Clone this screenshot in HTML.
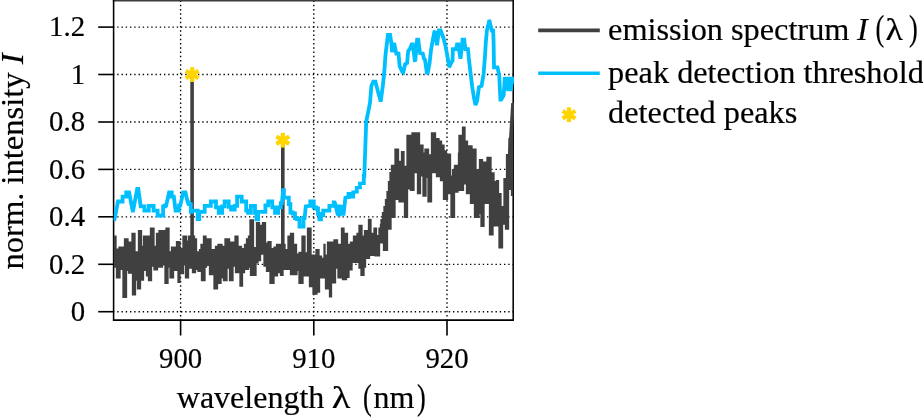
<!DOCTYPE html>
<html lang="en">
<head>
<meta charset="utf-8">
<title>Emission spectrum with peak detection threshold</title>
<style>
html,body{margin:0;padding:0;background:#fff;}
body{width:923px;height:417px;overflow:hidden;}
svg{display:block;}
text{font-family:"Liberation Serif","DejaVu Serif",serif;fill:#000;stroke:#000;stroke-width:0.2px;}
.tick{font-size:30px;}
.lab{font-size:32.3px;}
.it{font-style:italic;}
</style>
</head>
<body>
<svg width="923" height="417" viewBox="0 0 923 417">
<rect x="0" y="0" width="923" height="417" fill="#ffffff"/>
<defs><clipPath id="plotclip"><rect x="113.6" y="0" width="400.40000000000003" height="320.1"/></clipPath></defs>

<g stroke="#000" stroke-width="1.35" stroke-dasharray="1.35 2.9" stroke-dashoffset="0.6" fill="none">
<line x1="113.6" y1="311.7" x2="513.2" y2="311.7"/>
<line x1="113.6" y1="264.3" x2="513.2" y2="264.3"/>
<line x1="113.6" y1="216.8" x2="513.2" y2="216.8"/>
<line x1="113.6" y1="169.4" x2="513.2" y2="169.4"/>
<line x1="113.6" y1="122.0" x2="513.2" y2="122.0"/>
<line x1="113.6" y1="74.5" x2="513.2" y2="74.5"/>
<line x1="113.6" y1="27.1" x2="513.2" y2="27.1"/>
<line x1="180.6" y1="320.1" x2="180.6" y2="0"/>
<line x1="313.8" y1="320.1" x2="313.8" y2="0"/>
<line x1="447.0" y1="320.1" x2="447.0" y2="0"/>
</g>
<line x1="112.85" y1="0.7" x2="513.95" y2="0.7" stroke="#3c3c3c" stroke-width="1.6"/>
<polyline points="113.6,0 113.6,320.1 513.2,320.1 513.2,0" fill="none" stroke="#000" stroke-width="1.55"/>
<g clip-path="url(#plotclip)" fill="none">
<path d="M114.0,235.5V267.8M114.5,235.5V267.8M115.0,235.5V267.8M115.5,235.5V267.8M116.0,235.5V267.8M116.5,248.5V278.6M117.0,248.5V278.6M117.5,248.5V278.6M118.0,248.5V278.6M118.5,248.5V278.6M119.0,246.4V278.6M119.5,246.4V278.6M120.0,246.4V278.6M120.5,246.4V269.9M121.0,246.4V269.9M121.5,246.4V269.9M122.0,246.4V269.9M122.5,246.4V269.9M123.0,246.4V298.1M123.5,246.4V298.1M124.0,246.4V298.1M124.5,238.3V298.1M125.0,238.3V298.1M125.5,238.3V298.1M126.0,238.3V298.1M126.5,238.3V298.1M127.0,238.3V271.0M127.5,238.3V271.0M128.0,238.3V271.0M128.5,241.5V273.7M129.0,241.5V273.7M129.5,241.5V273.7M130.0,241.5V273.7M130.5,241.5V273.7M131.0,241.5V273.7M131.5,241.5V273.7M132.0,232.8V273.7M132.5,232.8V295.4M133.0,232.8V295.4M133.5,232.8V295.4M134.0,232.8V295.4M134.5,232.8V295.4M135.0,232.8V295.4M135.5,251.3V295.4M136.0,251.3V280.8M136.5,251.3V280.8M137.0,251.3V280.8M137.5,251.3V289.4M138.0,251.3V289.4M138.5,230.1V289.4M139.0,230.1V289.4M139.5,230.1V289.4M140.0,230.1V289.4M140.5,230.1V289.4M141.0,230.1V280.8M141.5,230.1V280.8M142.0,245.8V280.8M142.5,245.8V280.8M143.0,245.8V280.8M143.5,235.5V280.8M144.0,235.5V271.0M144.5,235.5V271.0M145.0,235.5V271.0M145.5,235.5V271.0M146.0,235.5V271.0M146.5,235.5V276.4M147.0,235.5V276.4M147.5,235.5V276.4M148.0,235.5V276.4M148.5,235.5V281.3M149.0,235.5V281.3M149.5,235.5V281.3M150.0,235.5V281.3M150.5,227.4V281.3M151.0,227.4V281.3M151.5,227.4V281.3M152.0,227.4V266.7M152.5,227.4V266.7M153.0,227.4V266.7M153.5,227.4V266.7M154.0,227.4V270.5M154.5,245.8V270.5M155.0,245.8V270.5M155.5,245.8V270.5M156.0,245.8V270.5M156.5,232.8V270.5M157.0,232.8V270.5M157.5,232.8V270.5M158.0,232.8V267.8M158.5,232.8V267.8M159.0,230.1V267.8M159.5,230.1V267.8M160.0,230.1V267.8M160.5,230.1V267.8M161.0,230.1V267.8M161.5,230.1V267.8M162.0,230.1V267.8M162.5,230.1V267.8M163.0,230.1V265.6M163.5,230.1V265.6M164.0,230.1V265.6M164.5,230.1V265.6M165.0,230.1V284.0M165.5,230.1V284.0M166.0,227.4V284.0M166.5,227.4V284.0M167.0,227.4V284.0M167.5,227.4V284.0M168.0,227.4V284.0M168.5,227.4V267.8M169.0,227.4V267.8M169.5,251.3V267.8M170.0,251.3V278.6M170.5,251.3V278.6M171.0,251.3V278.6M171.5,246.4V278.6M172.0,246.4V278.6M172.5,246.4V278.6M173.0,246.4V278.6M173.5,246.4V278.6M174.0,246.4V271.0M174.5,246.4V271.0M175.0,246.4V271.0M175.5,246.4V271.0M176.0,246.4V271.0M176.5,241.0V271.0M177.0,241.0V271.0M177.5,241.0V271.0M178.0,241.0V282.9M178.5,241.0V282.9M179.0,241.0V282.9M179.5,241.0V282.9M180.0,241.0V282.9M180.5,248.0V274.3M181.0,248.0V274.3M181.5,248.0V274.3M182.0,248.0V274.3M182.5,248.0V274.3M183.0,235.5V274.3M183.5,235.5V274.3M184.0,235.5V265.6M184.5,235.5V265.6M185.0,235.5V265.6M185.5,235.5V278.6M186.0,235.5V278.6M186.5,235.5V278.6M187.0,240.4V278.6M187.5,240.4V278.6M188.0,240.4V278.6M188.5,235.5V278.6M189.0,235.5V268.8M189.5,235.5V268.8M190.0,235.5V268.8M190.5,235.5V268.8M191.0,235.5V268.8M191.5,235.5V268.8M192.0,235.5V268.8M192.5,235.5V273.2M193.0,235.5V273.2M193.5,235.5V273.2M194.0,235.5V273.2M194.5,235.5V273.2M195.0,238.3V273.2M195.5,238.3V273.2M196.0,238.3V269.9M196.5,238.3V269.9M197.0,251.3V269.9M197.5,251.3V269.9M198.0,251.3V272.1M198.5,251.3V272.1M199.0,251.3V272.1M199.5,249.1V272.1M200.0,249.1V272.1M200.5,249.1V272.1M201.0,243.7V272.1M201.5,243.7V281.3M202.0,243.7V281.3M202.5,243.7V281.3M203.0,243.7V281.3M203.5,235.5V281.3M204.0,235.5V281.3M204.5,235.5V281.3M205.0,235.5V281.3M205.5,235.5V267.8M206.0,235.5V267.8M206.5,245.8V267.8M207.0,238.3V266.1M207.5,238.3V266.1M208.0,238.3V266.1M208.5,238.3V266.1M209.0,238.3V266.1M209.5,238.3V275.3M210.0,238.3V275.3M210.5,238.3V275.3M211.0,238.3V275.3M211.5,249.1V275.3M212.0,249.1V275.3M212.5,249.1V275.3M213.0,249.1V275.3M213.5,249.1V275.3M214.0,249.1V289.4M214.5,249.1V289.4M215.0,249.1V289.4M215.5,245.8V289.4M216.0,245.8V289.4M216.5,245.8V289.4M217.0,245.8V289.4M217.5,245.8V289.4M218.0,243.7V284.0M218.5,243.7V284.0M219.0,243.7V284.0M219.5,243.7V284.0M220.0,243.7V284.0M220.5,243.7V284.0M221.0,243.7V284.0M221.5,243.7V278.6M222.0,243.7V278.6M222.5,245.8V278.6M223.0,245.8V278.6M223.5,245.8V281.3M224.0,245.8V281.3M224.5,245.8V281.3M225.0,238.3V281.3M225.5,238.3V281.3M226.0,238.3V281.3M226.5,238.3V281.3M227.0,238.3V281.3M227.5,238.3V268.8M228.0,238.3V268.8M228.5,238.3V268.8M229.0,238.3V268.8M229.5,238.3V281.3M230.0,241.5V281.3M230.5,241.5V281.3M231.0,241.5V281.3M231.5,241.5V281.3M232.0,241.5V281.3M232.5,241.5V281.3M233.0,241.5V281.3M233.5,241.5V266.7M234.0,241.5V266.7M234.5,241.5V266.7M235.0,235.5V266.7M235.5,235.5V273.2M236.0,235.5V273.2M236.5,235.5V273.2M237.0,235.5V273.2M237.5,235.5V273.2M238.0,235.5V273.2M238.5,245.8V273.2M239.0,245.8V273.2M239.5,245.8V273.2M240.0,245.8V286.7M240.5,245.8V286.7M241.0,245.8V286.7M241.5,245.8V286.7M242.0,248.0V286.7M242.5,248.0V286.7M243.0,248.0V273.2M243.5,248.0V273.2M244.0,248.0V273.2M244.5,243.7V273.2M245.0,243.7V269.9M245.5,243.7V269.9M246.0,243.7V269.9M246.5,238.3V269.9M247.0,238.3V269.9M247.5,238.3V269.9M248.0,238.3V269.9M248.5,235.5V269.9M249.0,235.5V267.8M249.5,235.5V267.8M250.0,219.3V267.8M250.5,219.3V275.9M251.0,219.3V275.9M251.5,219.3V275.9M252.0,219.3V275.9M252.5,219.3V275.9M253.0,219.3V275.9M253.5,219.3V275.9M254.0,246.9V275.9M254.5,246.9V275.9M255.0,246.9V275.9M255.5,246.9V275.9M256.0,246.9V275.9M256.5,222.0V263.4M257.0,222.0V263.4M257.5,222.0V263.4M258.0,222.0V263.4M258.5,222.0V261.3M259.0,222.0V261.3M259.5,222.0V261.3M260.0,224.7V261.3M260.5,224.7V261.3M261.0,224.7V254.7M261.5,224.7V254.7M262.0,224.7V254.7M262.5,222.0V254.7M263.0,222.0V254.7M263.5,222.0V254.7M264.0,222.0V266.7M264.5,222.0V266.7M265.0,222.0V266.7M265.5,222.0V266.7M266.0,242.6V266.7M266.5,242.6V272.1M267.0,242.6V272.1M267.5,242.6V272.1M268.0,241.0V272.1M268.5,241.0V272.1M269.0,241.0V272.1M269.5,241.0V272.1M270.0,241.0V284.0M270.5,241.0V284.0M271.0,241.0V284.0M271.5,248.0V284.0M272.0,248.0V284.0M272.5,248.0V284.0M273.0,248.0V284.0M273.5,248.0V284.0M274.0,246.4V284.0M274.5,246.4V276.4M275.0,246.4V276.4M275.5,246.4V276.4M276.0,246.4V276.4M276.5,243.7V276.4M277.0,243.7V276.4M277.5,243.7V276.4M278.0,243.7V273.2M278.5,243.7V273.2M279.0,243.7V273.2M279.5,243.7V273.2M280.0,243.7V273.2M280.5,243.7V275.9M281.0,243.7V275.9M281.5,243.7V275.9M282.0,243.7V275.9M282.5,243.7V275.9M283.0,243.7V275.9M283.5,243.7V269.9M284.0,243.7V269.9M284.5,243.7V269.9M285.0,243.7V269.9M285.5,249.1V269.9M286.0,249.1V269.9M286.5,249.1V269.9M287.0,249.1V269.9M287.5,249.1V269.9M288.0,235.5V269.9M288.5,235.5V269.9M289.0,235.5V269.9M289.5,235.5V269.9M290.0,235.5V269.9M290.5,232.8V275.3M291.0,232.8V275.3M291.5,232.8V275.3M292.0,232.8V275.3M292.5,232.8V275.3M293.0,232.8V275.3M293.5,232.8V275.3M294.0,243.7V275.3M294.5,243.7V275.3M295.0,243.7V275.3M295.5,243.7V275.3M296.0,243.7V275.3M296.5,243.7V275.3M297.0,253.4V275.3M297.5,253.4V271.0M298.0,253.4V271.0M298.5,253.4V271.0M299.0,251.8V284.0M299.5,251.8V284.0M300.0,251.8V284.0M300.5,251.8V284.0M301.0,251.8V284.0M301.5,251.8V284.0M302.0,235.5V284.0M302.5,235.5V284.0M303.0,235.5V284.0M303.5,235.5V276.4M304.0,235.5V276.4M304.5,235.5V276.4M305.0,235.5V276.4M305.5,252.3V276.4M306.0,252.3V276.4M306.5,252.3V276.4M307.0,252.3V276.4M307.5,227.4V276.4M308.0,227.4V276.4M308.5,227.4V276.4M309.0,227.4V276.4M309.5,227.4V287.3M310.0,227.4V287.3M310.5,227.4V287.3M311.0,227.4V287.3M311.5,254.5V287.3M312.0,254.5V287.3M312.5,254.5V287.3M313.0,254.5V294.8M313.5,254.5V294.8M314.0,254.5V294.8M314.5,254.5V294.8M315.0,254.5V294.8M315.5,254.5V294.8M316.0,249.1V294.8M316.5,249.1V294.8M317.0,249.1V294.8M317.5,249.1V292.7M318.0,249.1V292.7M318.5,249.1V292.7M319.0,249.1V292.7M319.5,255.6V292.7M320.0,255.6V278.6M320.5,255.6V278.6M321.0,255.6V278.6M321.5,255.6V278.6M322.0,257.8V278.6M322.5,257.8V278.6M323.0,257.8V278.6M323.5,257.8V278.6M324.0,243.7V278.6M324.5,243.7V278.6M325.0,243.7V278.6M325.5,254.5V289.4M326.0,254.5V289.4M326.5,254.5V289.4M327.0,254.5V289.4M327.5,241.5V289.4M328.0,241.5V289.4M328.5,241.5V289.4M329.0,241.5V289.4M329.5,241.5V297.5M330.0,241.5V297.5M330.5,241.5V297.5M331.0,241.5V297.5M331.5,241.5V297.5M332.0,241.5V283.5M332.5,241.5V283.5M333.0,241.5V283.5M333.5,241.5V283.5M334.0,239.3V283.5M334.5,239.3V283.5M335.0,239.3V283.5M335.5,239.3V283.5M336.0,239.3V268.8M336.5,239.3V268.8M337.0,239.3V268.8M337.5,239.3V268.8M338.0,243.7V278.6M338.5,243.7V278.6M339.0,243.7V278.6M339.5,243.7V278.6M340.0,243.7V278.6M340.5,243.7V278.6M341.0,243.7V278.6M341.5,227.4V278.6M342.0,227.4V278.6M342.5,227.4V280.2M343.0,227.4V280.2M343.5,227.4V280.2M344.0,227.4V280.2M344.5,232.8V280.2M345.0,232.8V280.2M345.5,232.8V280.2M346.0,232.8V280.2M346.5,232.8V280.2M347.0,232.8V278.0M347.5,232.8V278.0M348.0,243.7V278.0M348.5,243.7V278.0M349.0,243.7V278.0M349.5,243.7V270.5M350.0,243.7V270.5M350.5,241.5V270.5M351.0,241.5V270.5M351.5,241.5V270.5M352.0,241.5V270.5M352.5,241.5V262.9M353.0,241.5V262.9M353.5,235.5V262.9M354.0,235.5V262.9M354.5,235.5V262.9M355.0,235.5V262.9M355.5,235.5V262.9M356.0,235.5V262.9M356.5,235.5V262.9M357.0,232.8V262.9M357.5,232.8V262.9M358.0,232.8V262.9M358.5,232.8V262.9M359.0,224.7V268.8M359.5,224.7V268.8M360.0,224.7V268.8M360.5,224.7V268.8M361.0,224.7V275.9M361.5,224.7V275.9M362.0,224.7V275.9M362.5,235.5V275.9M363.0,235.5V275.9M363.5,235.5V275.9M364.0,235.5V275.9M364.5,230.1V267.8M365.0,230.1V267.8M365.5,230.1V267.8M366.0,230.1V259.1M366.5,230.1V259.1M367.0,230.1V259.1M367.5,230.1V259.1M368.0,230.1V259.1M368.5,218.7V259.1M369.0,218.7V259.1M369.5,218.7V259.1M370.0,218.7V256.0M370.5,218.7V256.0M371.0,218.7V256.0M371.5,232.8V256.0M372.0,232.8V256.0M372.5,232.8V256.0M373.0,232.8V256.0M373.5,232.8V256.0M374.0,227.4V256.0M374.5,227.4V256.0M375.0,227.4V256.6M375.5,227.4V256.6M376.0,227.4V256.6M376.5,227.4V256.6M377.0,235.0V256.6M377.5,235.0V256.6M378.0,235.0V256.6M378.5,235.0V256.6M379.0,227.4V256.6M379.5,227.4V256.6M380.0,227.4V243.5M380.5,224.0V243.5M381.0,219.0V243.5M381.5,219.0V243.5M382.0,219.0V243.5M382.5,212.0V243.5M383.0,212.0V243.5M383.5,212.0V250.9M384.0,206.0V250.9M384.5,206.0V250.9M385.0,206.0V250.9M385.5,199.0V250.9M386.0,199.0V250.9M386.5,199.0V250.9M387.0,191.0V250.9M387.5,191.0V250.9M388.0,191.0V229.7M388.5,181.0V229.7M389.0,181.0V229.7M389.5,181.0V229.7M390.0,172.0V229.7M390.5,172.0V229.7M391.0,172.0V229.7M391.5,164.8V218.0M392.0,164.8V218.0M392.5,164.8V218.0M393.0,164.8V218.0M393.5,164.8V218.0M394.0,164.8V218.0M394.5,164.8V218.0M395.0,148.5V218.0M395.5,148.5V200.1M396.0,148.5V200.1M396.5,148.5V200.1M397.0,148.5V200.1M397.5,148.5V200.1M398.0,148.5V200.1M398.5,148.5V200.1M399.0,160.8V202.5M399.5,160.8V202.5M400.0,160.8V202.5M400.5,160.8V202.5M401.0,160.8V202.5M401.5,151.0V202.5M402.0,151.0V202.5M402.5,151.0V202.5M403.0,151.0V202.5M403.5,151.0V202.5M404.0,151.0V202.5M404.5,165.7V218.0M405.0,165.7V218.0M405.5,165.7V218.0M406.0,165.7V218.0M406.5,165.7V218.0M407.0,134.7V218.0M407.5,134.7V218.0M408.0,134.7V189.5M408.5,134.7V189.5M409.0,134.7V189.5M409.5,134.7V189.5M410.0,134.7V189.5M410.5,134.7V191.1M411.0,134.7V191.1M411.5,134.7V191.1M412.0,132.2V191.1M412.5,132.2V191.1M413.0,132.2V191.1M413.5,132.2V191.1M414.0,132.2V191.1M414.5,132.2V173.2M415.0,132.2V173.2M415.5,132.2V173.2M416.0,132.2V173.2M416.5,132.2V173.2M417.0,132.2V173.2M417.5,132.2V194.3M418.0,132.2V194.3M418.5,132.2V194.3M419.0,132.2V194.3M419.5,132.2V194.3M420.0,144.5V194.3M420.5,144.5V194.3M421.0,144.5V176.4M421.5,144.5V176.4M422.0,144.5V176.4M422.5,144.5V176.4M423.0,144.5V196.8M423.5,152.6V196.8M424.0,152.6V196.8M424.5,152.6V196.8M425.0,148.5V196.8M425.5,148.5V196.8M426.0,148.5V196.8M426.5,148.5V178.0M427.0,148.5V178.0M427.5,148.5V178.0M428.0,148.5V202.5M428.5,148.5V202.5M429.0,154.2V202.5M429.5,154.2V202.5M430.0,154.2V202.5M430.5,154.2V202.5M431.0,154.2V202.5M431.5,132.2V202.5M432.0,132.2V173.2M432.5,132.2V173.2M433.0,132.2V173.2M433.5,132.2V173.2M434.0,132.2V173.2M434.5,132.2V173.2M435.0,132.2V173.2M435.5,132.2V173.2M436.0,137.9V173.2M436.5,137.9V177.2M437.0,137.9V177.2M437.5,137.9V177.2M438.0,137.9V177.2M438.5,137.9V177.2M439.0,137.9V177.2M439.5,140.4V177.2M440.0,140.4V177.2M440.5,140.4V181.3M441.0,140.4V181.3M441.5,140.4V181.3M442.0,144.5V181.3M442.5,144.5V181.3M443.0,144.5V181.3M443.5,144.5V200.1M444.0,144.5V200.1M444.5,150.2V200.1M445.0,150.2V200.1M445.5,150.2V200.1M446.0,150.2V200.1M446.5,150.2V200.1M447.0,153.4V200.1M447.5,153.4V200.1M448.0,153.4V194.3M448.5,153.4V194.3M449.0,153.4V194.3M449.5,153.4V194.3M450.0,153.4V194.3M450.5,153.4V194.3M451.0,175.4V218.0M451.5,175.4V218.0M452.0,175.4V218.0M452.5,168.9V218.0M453.0,168.9V218.0M453.5,168.9V218.0M454.0,168.9V218.0M454.5,164.8V218.0M455.0,164.8V192.7M455.5,164.8V192.7M456.0,164.8V192.7M456.5,164.8V192.7M457.0,164.8V192.7M457.5,164.8V192.7M458.0,164.8V192.7M458.5,152.6V191.1M459.0,134.7V191.1M459.5,134.7V191.1M460.0,134.7V191.1M460.5,134.7V191.1M461.0,134.7V191.1M461.5,134.7V191.1M462.0,134.7V191.1M462.5,126.5V191.1M463.0,126.5V191.1M463.5,126.5V191.1M464.0,126.5V184.6M464.5,126.5V184.6M465.0,126.5V184.6M465.5,140.4V184.6M466.0,140.4V184.6M466.5,140.4V194.3M467.0,140.4V194.3M467.5,140.4V194.3M468.0,145.3V194.3M468.5,145.3V194.3M469.0,145.3V194.3M469.5,145.3V194.3M470.0,145.3V194.3M470.5,145.3V204.1M471.0,145.3V204.1M471.5,145.3V204.1M472.0,145.3V204.1M472.5,165.7V204.1M473.0,148.5V204.1M473.5,148.5V204.1M474.0,148.5V204.1M474.5,148.5V218.0M475.0,148.5V218.0M475.5,148.5V218.0M476.0,148.5V218.0M476.5,168.9V218.0M477.0,168.9V218.0M477.5,168.9V218.0M478.0,168.9V218.0M478.5,168.9V218.0M479.0,168.9V218.0M479.5,159.1V213.9M480.0,159.1V213.9M480.5,159.1V213.9M481.0,159.1V227.0M481.5,159.1V227.0M482.0,159.1V227.0M482.5,159.1V227.0M483.0,161.6V227.0M483.5,161.6V227.0M484.0,161.6V227.0M484.5,161.6V204.1M485.0,161.6V204.1M485.5,161.6V204.1M486.0,161.6V204.1M486.5,161.6V204.1M487.0,156.7V204.1M487.5,156.7V204.1M488.0,156.7V204.1M488.5,156.7V204.1M489.0,156.7V204.1M489.5,156.7V235.4M490.0,156.7V235.4M490.5,156.7V235.4M491.0,156.7V235.4M491.5,172.2V235.4M492.0,172.2V235.4M492.5,172.2V235.4M493.0,172.2V235.4M493.5,172.2V226.4M494.0,172.2V226.4M494.5,181.1V226.4M495.0,181.1V226.4M495.5,181.1V226.4M496.0,181.1V226.4M496.5,180.0V226.4M497.0,180.0V226.4M497.5,180.0V226.4M498.0,180.0V226.4M498.5,180.0V226.4M499.0,193.0V248.4M499.5,193.0V248.4M500.0,193.0V248.4M500.5,193.0V248.4M501.0,193.0V248.4M501.5,206.0V248.4M502.0,206.0V248.4M502.5,206.0V248.4M503.0,206.0V224.8M503.5,206.0V224.8M504.0,178.0V224.8M504.5,178.0V224.8M505.0,178.0V224.8M505.5,178.0V229.7M506.0,178.0V229.7M506.5,154.0V229.7M507.0,154.0V229.7M507.5,154.0V229.7M508.0,154.0V229.7M508.5,154.0V229.7M509.0,138.0V190.0M509.5,138.0V190.0M510.0,138.0V190.0M510.5,138.0V190.0M511.0,138.0V190.0M511.5,128.0V196.0M512.0,128.0V196.0M512.5,128.0V196.0" stroke="#404040" stroke-width="1.3"/>
<path d="M192.1,74.5V250M282.8,140.5V250M509.3,160L511.2,132L513.0,103" stroke="#404040" stroke-width="3.6"/>
<polyline points="114.2,221.0 118.0,201.5 122.3,201.5 122.6,201.5 122.6,196.6 122.8,196.6 125.5,196.6 126.2,196.6 126.2,192.3 126.9,192.3 129.1,192.3 132.6,210.7 133.1,210.7 137.2,189.0 138.3,189.0 140.7,206.3 143.4,206.3 144.4,206.3 144.4,210.7 145.3,210.7 147.5,210.7 148.8,210.7 148.8,205.8 150.2,205.8 152.4,205.8 153.6,205.8 153.6,210.7 154.8,210.7 157.0,210.7 157.6,210.7 157.6,215.5 158.3,215.5 162.1,215.5 163.1,215.5 163.1,206.3 164.0,206.3 165.1,206.3 165.1,205.3 166.2,205.3 169.1,192.3 170.8,192.3 171.7,192.3 171.7,196.6 172.7,196.6 173.8,196.6 175.6,210.7 177.8,210.7 179.0,210.7 179.0,205.3 180.3,205.3 183.2,192.3 185.4,192.3 187.8,202.5 188.9,202.5 188.9,204.2 190.0,204.2 190.8,204.2 190.8,211.8 191.6,211.8 191.8,211.8 191.8,210.7 192.0,210.7 196.9,210.7 197.7,210.7 197.7,219.1 198.5,219.1 199.3,219.1 199.3,211.8 200.1,211.8 203.9,211.8 204.7,211.8 204.7,205.8 205.5,205.8 209.3,205.8 210.8,205.8 210.8,201.5 212.3,201.5 214.5,201.5 216.0,201.5 216.0,207.4 217.5,207.4 218.7,207.4 218.7,212.8 219.9,212.8 221.0,212.8 222.2,212.8 222.2,206.3 223.4,206.3 224.6,206.3 224.6,201.5 225.8,201.5 227.5,201.5 228.7,201.5 228.7,206.9 229.9,206.9 231.1,206.9 231.1,209.6 232.3,209.6 233.5,209.6 234.7,209.6 234.7,205.8 235.9,205.8 237.1,205.8 237.1,196.6 238.3,196.6 240.5,196.6 241.7,196.6 241.7,201.5 242.9,201.5 245.6,201.5 246.2,201.5 246.2,210.7 246.7,210.7 248.1,210.7 248.1,212.8 249.4,212.8 250.9,212.8 250.9,205.8 252.4,205.8 254.0,205.8 255.0,205.8 255.0,212.8 255.9,212.8 256.5,212.8 256.5,219.3 257.0,219.3 258.1,219.3 258.1,211.8 259.2,211.8 264.0,211.8 265.4,211.8 265.4,205.3 266.8,205.3 268.2,205.3 268.2,201.5 269.7,201.5 270.8,201.5 272.3,201.5 272.3,207.4 273.8,207.4 275.0,207.4 275.0,212.8 276.2,212.8 276.8,212.8 278.3,212.8 278.3,207.4 279.8,207.4 280.8,207.4 280.8,203.1 281.9,203.1 283.1,190.1 283.9,190.1 283.9,197.7 284.7,197.7 288.0,197.7 288.8,197.7 288.8,204.2 289.6,204.2 290.4,204.2 290.4,212.5 291.2,212.5 292.8,212.5 292.8,213.5 294.5,213.5 295.0,213.5 295.0,218.0 295.5,218.0 297.0,218.0 297.0,219.0 298.5,219.0 299.5,219.0 299.5,226.5 300.6,226.5 302.4,226.5 303.5,226.5 303.5,218.0 304.6,218.0 305.8,206.3 309.1,205.8 310.3,205.8 310.3,201.5 311.5,201.5 312.6,201.5 313.8,201.5 313.8,207.4 315.0,207.4 316.1,207.4 316.1,208.5 317.2,208.5 318.0,208.5 318.0,213.9 318.8,213.9 319.4,213.9 319.4,219.3 319.9,219.3 321.0,219.3 321.0,215.0 322.1,215.0 323.2,215.0 323.2,210.7 324.3,210.7 328.6,210.7 329.4,210.7 329.4,205.8 330.2,205.8 332.9,205.8 333.7,205.8 333.7,202.5 334.6,202.5 335.1,203.1 337.5,213.9 338.1,214.5 339.3,214.5 339.3,206.3 340.5,206.3 341.0,206.9 342.1,206.9 342.1,213.9 343.2,213.9 343.5,213.9 343.5,212.8 343.7,212.8 345.4,197.7 347.5,197.1 348.5,197.1 348.5,193.9 349.4,193.9 350.0,193.9 351.2,193.9 351.2,196.6 352.4,196.6 353.2,196.6 353.2,192.3 354.0,192.3 356.2,191.7 356.8,191.7 356.8,187.9 357.3,187.9 359.5,187.4 360.0,187.4 360.0,183.6 360.5,183.6 363.3,183.0 363.8,183.0 363.8,176.0 364.3,176.0 366.2,121.6 368.4,110.8 370.0,103.0 371.4,86.0 373.3,81.7 375.4,81.7 377.9,91.4 380.3,100.1 380.9,100.1 382.8,86.0 384.4,70.8 385.5,55.0 387.9,34.8 390.1,34.8 391.4,43.4 392.0,52.1 393.8,44.5 394.4,44.5 396.3,53.7 398.5,53.7 399.6,66.0 402.3,72.0 403.2,72.5 405.2,64.0 407.1,63.0 408.2,51.0 409.8,49.0 411.7,44.5 412.8,44.5 414.8,60.8 415.2,61.3 417.1,39.6 418.2,39.6 420.1,53.2 422.8,53.7 423.9,58.6 425.0,59.7 426.8,72.5 427.8,72.5 429.6,62.9 431.0,49.9 434.3,32.0 435.1,31.3 436.8,43.5 437.2,43.5 438.9,30.5 440.6,30.5 443.5,38.1 445.7,46.8 447.8,58.6 449.2,65.9 449.7,66.0 451.6,62.0 452.5,61.0 452.9,49.1 456.0,49.1 457.1,44.5 458.2,44.5 460.2,57.2 460.7,57.2 462.5,39.7 464.2,39.7 465.4,49.1 468.0,49.1 468.8,58.0 470.4,72.0 472.2,86.7 473.9,97.5 475.5,105.1 477.1,100.8 478.9,87.3 481.6,85.8 483.6,74.0 485.0,56.0 485.8,42.5 486.9,30.6 489.1,21.4 489.6,21.4 491.8,30.6 493.2,30.6 493.6,42.5 493.8,55.0 494.0,67.4 497.5,67.4 499.2,75.0 500.4,99.7 501.2,99.7 503.7,95.3 504.8,77.0 506.0,90.0 507.0,77.0 508.3,91.0 509.5,77.0 510.8,91.0 512.0,77.0 513.2,84.0" stroke="#00bfff" stroke-width="3.8" stroke-linejoin="miter" stroke-miterlimit="2"/>
</g>
<g stroke="#ffd400" stroke-width="4.2" stroke-linecap="butt"><line x1="192.20" y1="67.20" x2="192.20" y2="82.00"/><line x1="185.79" y1="70.90" x2="198.61" y2="78.30"/><line x1="198.61" y1="70.90" x2="185.79" y2="78.30"/></g>
<g stroke="#ffd400" stroke-width="4.2" stroke-linecap="butt"><line x1="282.80" y1="132.80" x2="282.80" y2="147.60"/><line x1="276.39" y1="136.50" x2="289.21" y2="143.90"/><line x1="289.21" y1="136.50" x2="276.39" y2="143.90"/></g>
<g stroke="#000" stroke-width="1.6">
<line x1="98.2" y1="311.7" x2="113.6" y2="311.7"/>
<line x1="98.2" y1="264.3" x2="113.6" y2="264.3"/>
<line x1="98.2" y1="216.8" x2="113.6" y2="216.8"/>
<line x1="98.2" y1="169.4" x2="113.6" y2="169.4"/>
<line x1="98.2" y1="122.0" x2="113.6" y2="122.0"/>
<line x1="98.2" y1="74.5" x2="113.6" y2="74.5"/>
<line x1="98.2" y1="27.1" x2="113.6" y2="27.1"/>
<line x1="180.6" y1="320.1" x2="180.6" y2="335.5"/>
<line x1="313.8" y1="320.1" x2="313.8" y2="335.5"/>
<line x1="447.0" y1="320.1" x2="447.0" y2="335.5"/>
</g>
<text class="tick" transform="translate(85.1,321.0) scale(0.96,1)" text-anchor="end">0</text>
<text class="tick" transform="translate(85.1,273.6) scale(0.96,1)" text-anchor="end">0.2</text>
<text class="tick" transform="translate(85.1,226.1) scale(0.96,1)" text-anchor="end">0.4</text>
<text class="tick" transform="translate(85.1,178.7) scale(0.96,1)" text-anchor="end">0.6</text>
<text class="tick" transform="translate(85.1,131.3) scale(0.96,1)" text-anchor="end">0.8</text>
<text class="tick" transform="translate(85.1,83.8) scale(0.96,1)" text-anchor="end">1</text>
<text class="tick" transform="translate(85.1,36.4) scale(0.96,1)" text-anchor="end">1.2</text>
<text class="tick" transform="translate(180.6,368.2) scale(0.96,1)" text-anchor="middle">900</text>
<text class="tick" transform="translate(313.8,368.2) scale(0.96,1)" text-anchor="middle">910</text>
<text class="tick" transform="translate(447.0,368.2) scale(0.96,1)" text-anchor="middle">920</text>
<text transform="translate(176.8,408.3)" font-size="32.0" xml:space="preserve">wavelength</text>
<text transform="translate(331.8,408.3) scale(1.2,1)" font-size="32" xml:space="preserve">λ</text>
<text transform="translate(363.1,409.0) scale(0.75,1)" font-size="35" xml:space="preserve">(</text>
<text transform="translate(373.5,408.3)" font-size="32.0" xml:space="preserve">nm</text>
<text transform="translate(417.1,409.0) scale(0.75,1)" font-size="35" xml:space="preserve">)</text>
<text transform="translate(22.7,269.5) rotate(-90)" font-size="32.55" xml:space="preserve">norm. intensity <tspan class="it">I</tspan></text>
<line x1="538.2" y1="30.4" x2="599.8" y2="30.4" stroke="#404040" stroke-width="3.6"/>
<line x1="538.2" y1="73.3" x2="599.8" y2="73.3" stroke="#00bfff" stroke-width="3.6"/>
<g stroke="#ffd400" stroke-width="4.2" stroke-linecap="butt"><line x1="569.00" y1="107.30" x2="569.00" y2="122.10"/><line x1="562.59" y1="111.00" x2="575.41" y2="118.40"/><line x1="575.41" y1="111.00" x2="562.59" y2="118.40"/></g>
<text transform="translate(608.1,39.8)" font-size="32.3" xml:space="preserve">emission spectrum</text>
<text class="it" transform="translate(857.1,39.8)" font-size="32.3" xml:space="preserve">I</text>
<text transform="translate(875.4,40.4) scale(0.75,1)" font-size="35" xml:space="preserve">(</text>
<text transform="translate(885.6,39.8) scale(1.12,1)" font-size="32" xml:space="preserve">λ</text>
<text transform="translate(909.0,40.4) scale(0.75,1)" font-size="35" xml:space="preserve">)</text>
<text transform="translate(608.1,82.8)" font-size="32.3" xml:space="preserve">peak detection threshold</text>
<text transform="translate(608.1,123.2)" font-size="32.3" xml:space="preserve">detected peaks</text>
</svg>
</body>
</html>
